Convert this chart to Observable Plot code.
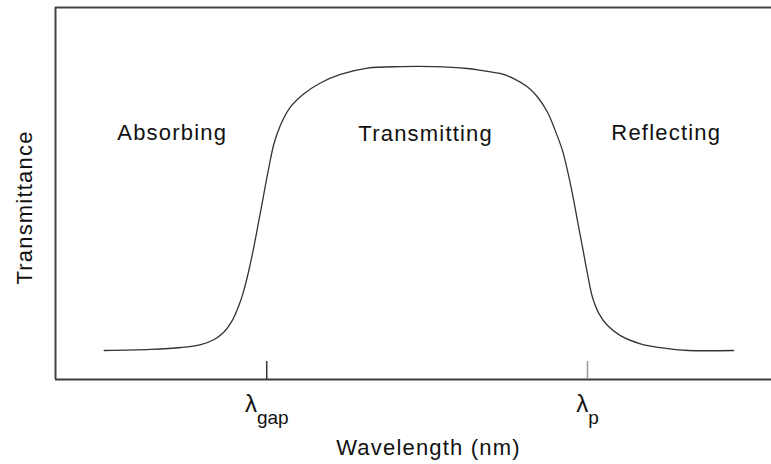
<!DOCTYPE html>
<html>
<head>
<meta charset="utf-8">
<script src="https://cdn.jsdelivr.net/npm/d3@7"></script>
<script src="https://cdn.jsdelivr.net/npm/@observablehq/plot@0.6"></script>
<style>
  html, body { margin: 0; padding: 0; background: #fff; }
</style>
</head>
<body>
<div id="chart"></div>
<script>
// Curve (arbitrary wavelength units, transmittance 0..1)
const wavelength = [6.8, 13.3, 17.5, 20.3, 22.1, 23.5, 24.7, 25.6, 26.3, 27.0, 27.7, 28.4, 29.1, 29.8, 30.5, 31.4, 32.8, 34.7, 37.0, 39.8, 43.6, 48.2, 52.8, 57.5, 59.4, 62.2, 64.0, 65.9, 67.3, 68.7, 69.8, 70.8, 71.5, 72.2, 72.9, 73.6, 74.3, 75.0, 75.9, 77.1, 78.9, 81.7, 85.5, 88.4, 94.7];
const transmittance = [0.078, 0.081, 0.086, 0.094, 0.107, 0.127, 0.159, 0.198, 0.239, 0.293, 0.356, 0.427, 0.499, 0.570, 0.633, 0.683, 0.732, 0.768, 0.797, 0.820, 0.837, 0.841, 0.841, 0.836, 0.831, 0.822, 0.809, 0.787, 0.760, 0.719, 0.669, 0.616, 0.562, 0.499, 0.427, 0.356, 0.284, 0.221, 0.177, 0.145, 0.118, 0.096, 0.083, 0.078, 0.078];

// Marked wavelengths (tick labels)
const tickPositions = [29.5, 74.3];
const tickSymbols = ["λ", "λ"];
const tickSubscripts = ["gap", "p"];
const tickColors = ["#333333", "#999999"];

// Region labels
const regionLabels = ["Absorbing", "Transmitting", "Reflecting"];
const regionX = [16.3, 51.7, 85.3];
const regionY = [0.664, 0.659, 0.664];

const xLabel = "Wavelength (nm)";
const yLabel = "Transmittance";

const curve = wavelength.map((x, i) => ({x, y: transmittance[i]}));
const ticks = tickPositions.map((x, i) => ({x, sym: tickSymbols[i], sub: tickSubscripts[i], color: tickColors[i], label: tickSymbols[i] + tickSubscripts[i]}));
const regions = regionLabels.map((t, i) => ({t, x: regionX[i], y: regionY[i]}));

const W = 771, H = 464, mT = 7, mB = 85, mL = 55, mR = 0;
const innerH = H - mT - mB;

const plot = Plot.plot({
  width: W,
  height: H,
  marginTop: mT,
  marginBottom: mB,
  marginLeft: mL,
  marginRight: mR,
  style: {fontFamily: "'Liberation Sans', Arial, sans-serif", color: "#111", background: "#fff", overflow: "visible"},
  x: {domain: [0, 100], axis: null},
  y: {domain: [0, 1], axis: null},
  marks: [
    Plot.ruleY([0], {stroke: "#3a3a3a", strokeWidth: 2}),
    Plot.ruleY([1], {stroke: "#444", strokeWidth: 2}),
    Plot.ruleX([0], {stroke: "#444", strokeWidth: 2}),
    Plot.tickX(ticks, {x: "x", stroke: "color", strokeWidth: 1.5, insetTop: innerH - 18}),
    Plot.line(curve, {x: "x", y: "y", curve: "catmull-rom", stroke: "#333", strokeWidth: 1.3}),
    Plot.text(regions, {x: "x", y: "y", text: "t", fontSize: 22, fill: "#111"}),
    Plot.text(ticks, {x: "x", text: "label", frameAnchor: "bottom", textAnchor: "middle", lineAnchor: "middle", dy: 25, fontSize: 24, fill: "#111"}),
    Plot.text([xLabel], {frameAnchor: "bottom", textAnchor: "middle", lineAnchor: "middle", dx: 15, dy: 68, fontSize: 22, fill: "#111"}),
    Plot.text([yLabel], {frameAnchor: "left", textAnchor: "middle", lineAnchor: "middle", dx: -31, dy: 14, rotate: -90, fontSize: 22, fill: "#111"})
  ]
});

// letter spacing on larger labels, to match the reference's wide type
plot.querySelectorAll("text").forEach(el => {
  const s = el.textContent;
  if (regionLabels.includes(s) || s === xLabel || s === yLabel) el.setAttribute("letter-spacing", "1.2");
});

// Turn tick labels into symbol + subscript
const ns = "http://www.w3.org/2000/svg";
plot.querySelectorAll("text").forEach(el => {
  const d = ticks.find(t => t.label === el.textContent);
  if (!d) return;
  while (el.firstChild) el.removeChild(el.firstChild);
  const a = document.createElementNS(ns, "tspan");
  a.textContent = d.sym;
  const b = document.createElementNS(ns, "tspan");
  b.textContent = d.sub;
  b.setAttribute("dy", "12");
  b.setAttribute("font-size", "19");
  el.appendChild(a);
  el.appendChild(b);
});

document.getElementById("chart").appendChild(plot);
</script>
</body>
</html>
